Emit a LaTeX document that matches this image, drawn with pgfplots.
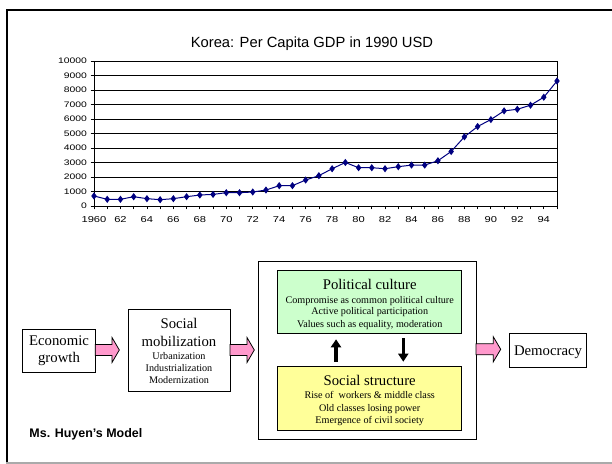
\documentclass[border=0pt]{standalone}
\usepackage{pgfplots}
\pgfplotsset{compat=1.18}
\usepackage{fontspec}
\setmainfont{Liberation Serif}
\newfontfamily\arial{Liberation Sans}
\newfontfamily\tickfont[FakeStretch=1.3]{Liberation Sans}
\usetikzlibrary{arrows.meta}
\definecolor{navy}{RGB}{0,0,128}
\definecolor{pinkarrow}{RGB}{255,153,204}
\definecolor{lgreen}{RGB}{204,255,204}
\definecolor{lyellow}{RGB}{255,255,153}
\definecolor{fgray}{RGB}{170,170,170}
\newcommand{\bigT}{\fontsize{14.8}{17}\selectfont}
\newcommand{\smT}{\fontsize{10.2}{12}\selectfont}
\begin{document}
\begin{tikzpicture}[x=1bp,y=1bp]
\useasboundingbox (0,0) rectangle (612,464);
% slide frame
\draw[black,line width=2.4bp] (7,0) -- (7,454) -- (612,454);
\draw[fgray,line width=1.5bp] (6,0.75) -- (612,0.75);
% title
\node[anchor=base,inner sep=0] at (312,416) {\arial\fontsize{14.8}{17}\selectfont Korea: Per Capita GDP in 1990 USD};
\begin{axis}[
  at={(94bp,258bp)}, anchor=south west,
  scale only axis, width=463bp, height=145bp,
  xmin=1960, xmax=1995, ymin=0, ymax=10000,
  xtick={1960,...,1995},
  xticklabels={1960,,62,,64,,66,,68,,70,,72,,74,,76,,78,,80,,82,,84,,86,,88,,90,,92,,94,},
  ytick={0,1000,...,10000},
  scaled y ticks=false,
  /pgf/number format/1000 sep={},
  /pgf/number format/assume math mode=true,
  yticklabel style={font=\tickfont\fontsize{8}{9}\selectfont},
  xticklabel style={font=\tickfont\fontsize{8.6}{9}\selectfont,yshift=-4bp},
  tick align=outside,
  major tick length=3.5bp,
  xtick pos=bottom, ytick pos=left,
  ymajorgrids,
  grid style={black,line width=0.6bp},
  axis line style={black,line width=0.9bp},
  tick style={black,line width=0.7bp},
  clip=false,
]
\addplot[navy,line width=1bp,mark=diamond*,mark size=2.8bp,mark options={fill=navy,draw=navy}] coordinates {
(1960,690) (1961,460) (1962,460) (1963,640) (1964,505) (1965,435) (1966,505)
(1967,640) (1968,757) (1969,800) (1970,917) (1971,917) (1972,963) (1973,1100)
(1974,1400) (1975,1400) (1976,1790) (1977,2090) (1978,2570) (1979,3000)
(1980,2640) (1981,2640) (1982,2570) (1983,2710) (1984,2820) (1985,2820)
(1986,3120) (1987,3760) (1988,4770) (1989,5480) (1990,5960) (1991,6560)
(1992,6670) (1993,6950) (1994,7500) (1995,8620)
};
\end{axis}
% ---- diagram ----
% Economic growth
\draw[line width=0.9bp] (22.7,91.7) rectangle (95.3,135);
\node[anchor=base,inner sep=0] at (59,118) {\bigT Economic};
\node[anchor=base,inner sep=0] at (59,101.5) {\bigT growth};
% arrow 1
\draw[fill=pinkarrow,line width=0.8bp] (95.3,119.5) -- (112,119.5) -- (112,126.5) -- (119.3,114) -- (112,101.5) -- (112,108.5) -- (95.3,108.5) -- cycle;
% Social mobilization
\draw[line width=0.9bp] (128.3,72.3) rectangle (230,154.7);
\node[anchor=base,inner sep=0] at (179,135) {\bigT Social};
\node[anchor=base,inner sep=0] at (179,117.3) {\bigT mobilization};
\node[anchor=base,inner sep=0] at (179,104) {\smT Urbanization};
\node[anchor=base,inner sep=0] at (179,92) {\smT Industrialization};
\node[anchor=base,inner sep=0] at (179,80) {\smT Modernization};
% arrow 2
\draw[fill=pinkarrow,line width=0.8bp] (230,119.5) -- (247,119.5) -- (247,126.5) -- (254.3,114) -- (247,101.5) -- (247,108.5) -- (230,108.5) -- cycle;
% big box
\draw[line width=0.9bp] (258.5,24.7) rectangle (476,203);
% green box
\draw[fill=lgreen,line width=0.9bp] (277.7,130.7) rectangle (461.7,193.3);
\node[anchor=base,inner sep=0] at (369.7,174.7) {\bigT Political culture};
\node[anchor=base,inner sep=0] at (369.7,160.7) {\smT Compromise as common political culture};
\node[anchor=base,inner sep=0] at (369.7,149) {\smT Active political participation};
\node[anchor=base,inner sep=0] at (369.7,136.7) {\smT Values such as equality, moderation};
% yellow box
\draw[fill=lyellow,line width=0.9bp] (277.7,34) rectangle (461.7,97.3);
\node[anchor=base,inner sep=0] at (369.7,78) {\bigT Social structure};
\node[anchor=base,inner sep=0] at (369.7,65.7) {\smT Rise of~ workers \& middle class};
\node[anchor=base,inner sep=0] at (369.7,52.3) {\smT Old classes losing power};
\node[anchor=base,inner sep=0] at (369.7,40) {\smT Emergence of civil society};
% vertical arrows
\draw[line width=3.2bp,-{Triangle[width=10bp,length=8bp]}] (336,102.3) -- (336,124.7);
\draw[line width=3.2bp,-{Triangle[width=10bp,length=8bp]}] (403.3,125.7) -- (403.3,102.3);
% arrow 3
\draw[fill=pinkarrow,line width=0.8bp] (476,120.2) -- (493.3,120.2) -- (493.3,127.2) -- (500.7,114.7) -- (493.3,102.2) -- (493.3,109.2) -- (476,109.2) -- cycle;
% Democracy
\draw[line width=0.9bp] (509.3,96.7) rectangle (586.7,130.7);
\node[anchor=base,inner sep=0] at (548,108) {\bigT Democracy};
% Ms. Huyen's Model
\node[anchor=base west,inner sep=0] at (29.3,26.7) {\arial\bfseries\fontsize{12.5}{14}\selectfont Ms. Huyen’s Model};
\end{tikzpicture}
\end{document}
